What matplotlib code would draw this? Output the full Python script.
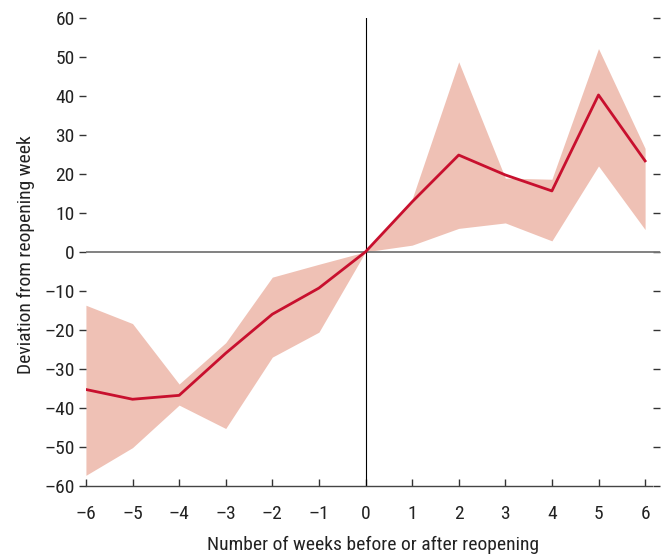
import matplotlib
matplotlib.use("Agg")
import matplotlib.pyplot as plt

plt.rcParams['font.family'] = ['Roboto Condensed', 'DejaVu Sans']

# weeks relative to reopening
weeks = [-6, -5, -4, -3, -2, -1, 0, 1, 2, 3, 4, 5, 6]
deviation = [-35.3, -37.8, -36.8, -26.0, -16.0, -9.3, 0.0, 12.8, 24.8, 19.7, 15.6, 40.2, 23.3]
band_upper = [-13.7, -18.4, -33.9, -23.3, -6.5, -3.2, 0.0, 13.5, 48.7, 18.9, 18.6, 52.1, 26.5]
band_lower = [-57.3, -50.2, -39.3, -45.3, -27.0, -20.6, 0.0, 1.7, 6.0, 7.4, 2.8, 22.0, 5.7]

y_ticks = [60, 50, 40, 30, 20, 10, 0, -10, -20, -30, -40, -50, -60]
y_tick_labels = ['60', '50', '40', '30', '20', '10', '0', '–10', '–20', '–30', '–40', '–50', '–60']
x_tick_labels = ['–6', '–5', '–4', '–3', '–2', '–1', '0', '1', '2', '3', '4', '5', '6']

line_color = '#C8102E'
band_color = '#EFC1B5'

fig = plt.figure(figsize=(6.61, 5.54), dpi=100)
ax = fig.add_axes([0.130, 0.123, 0.8685, 0.845])

ax.fill_between(weeks, band_lower, band_upper, color=band_color, linewidth=0, zorder=1)
ax.plot(weeks, deviation, color=line_color, linewidth=2, zorder=3)

ax.axhline(0, color='#777777', linewidth=1.3, zorder=2)
ax.axvline(0, color='black', linewidth=0.8, zorder=2)

ax.set_xlim(-6, 6.32)
ax.set_ylim(-60, 60)

for side in ['top', 'left', 'right']:
    ax.spines[side].set_visible(False)
ax.spines['bottom'].set_color('#444444')
ax.spines['bottom'].set_linewidth(1.0)
ax.spines['bottom'].set_bounds(-6, 6.15)

ax.set_xticks(weeks)
ax.set_xticklabels(x_tick_labels)
ax.set_yticks(y_ticks)
ax.set_yticklabels(y_tick_labels)

ax.tick_params(axis='x', direction='in', length=5, width=1, color='#333333',
               labelsize=14, pad=14, colors='#222222')
ax.tick_params(axis='y', direction='out', length=5, width=1, color='#333333',
               labelsize=14, pad=3, colors='#222222', right=True)
for t in ax.yaxis.get_major_ticks():
    t.tick2line.set_marker(0)  # right ticks point inward

ax.set_xlabel('Number of weeks before or after reopening', fontsize=14, color='#222222', labelpad=9)
ax.set_ylabel('Deviation from reopening week', fontsize=14, color='#222222')
ax.yaxis.set_label_coords(-0.089, 0.495)

fig.savefig('out.png', dpi=100)
